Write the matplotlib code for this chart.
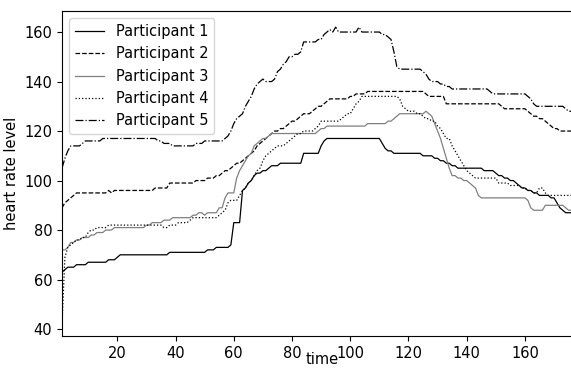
import numpy as np
import matplotlib
matplotlib.use('Agg')
import matplotlib.pyplot as plt

# time steps 1..176
time = np.arange(1, 177)

p1 = [63, 64, 65, 65, 65, 66, 66, 66, 66, 67,
      67, 67, 67, 67, 67, 67, 68, 68, 68, 69,
      70, 70, 70, 70, 70, 70, 70, 70, 70, 70,
      70, 70, 70, 70, 70, 70, 70, 71, 71, 71,
      71, 71, 71, 71, 71, 71, 71, 71, 71, 71,
      72, 72, 72, 73, 73, 73, 73, 73, 74, 83,
      83, 83, 96, 97, 99, 100, 102, 103, 103, 104,
      104, 105, 106, 106, 106, 107, 107, 107, 107, 107,
      107, 107, 107, 111, 111, 111, 111, 111, 111, 114,
      116, 117, 117, 117, 117, 117, 117, 117, 117, 117,
      117, 117, 117, 117, 117, 117, 117, 117, 117, 117,
      115, 113, 112, 112, 111, 111, 111, 111, 111, 111,
      111, 111, 111, 111, 110, 110, 110, 110, 109, 109,
      108, 108, 107, 107, 106, 106, 105, 105, 105, 105,
      105, 105, 105, 105, 105, 104, 104, 104, 104, 103,
      102, 102, 101, 101, 100, 100, 99, 98, 97, 97,
      96, 96, 95, 95, 94, 94, 94, 94, 93, 93,
      91, 89, 88, 87, 87, 87]

p2 = [89, 91, 92, 93, 94, 95, 95, 95, 95, 95,
      95, 95, 95, 95, 95, 95, 96, 95, 96, 96,
      96, 96, 96, 96, 96, 96, 96, 96, 96, 96,
      96, 96, 97, 97, 97, 97, 97, 99, 99, 99,
      99, 99, 99, 99, 99, 99, 100, 100, 100, 100,
      101, 101, 101, 102, 102, 103, 104, 104, 105, 106,
      107, 107, 108, 109, 110, 111, 112, 114, 115, 116,
      117, 118, 119, 120, 120, 121, 121, 122, 123, 124,
      124, 125, 126, 127, 127, 127, 128, 129, 130, 130,
      131, 132, 133, 133, 133, 133, 133, 133, 133, 134,
      134, 135, 135, 135, 135, 136, 136, 136, 136, 136,
      136, 136, 136, 136, 136, 136, 136, 136, 136, 136,
      136, 136, 136, 136, 136, 135, 134, 134, 134, 134,
      134, 134, 131, 131, 131, 131, 131, 131, 131, 131,
      131, 131, 131, 131, 131, 131, 131, 131, 131, 131,
      131, 130, 129, 129, 129, 129, 129, 129, 129, 129,
      128, 127, 126, 126, 125, 125, 124, 123, 122, 121,
      121, 120, 120, 120, 120, 120]

p3 = [72, 72, 73, 75, 75, 76, 76, 77, 77, 77,
      78, 78, 79, 79, 79, 80, 80, 80, 81, 81,
      81, 81, 81, 81, 81, 81, 81, 81, 81, 82,
      82, 83, 83, 83, 83, 84, 84, 84, 85, 85,
      85, 85, 85, 85, 85, 86, 86, 87, 87, 86,
      87, 87, 87, 87, 89, 89, 93, 95, 95, 95,
      101, 104, 106, 108, 110, 111, 114, 115, 116, 117,
      117, 118, 119, 119, 119, 119, 119, 119, 119, 119,
      119, 119, 119, 119, 119, 119, 119, 119, 120, 121,
      121, 122, 122, 122, 122, 122, 122, 122, 122, 122,
      122, 122, 122, 122, 122, 123, 123, 123, 123, 123,
      123, 123, 124, 124, 125, 126, 127, 127, 127, 127,
      127, 127, 127, 127, 127, 128, 127, 126, 123, 120,
      117, 113, 109, 105, 102, 102, 101, 101, 100, 100,
      99, 98, 97, 94, 93, 93, 93, 93, 93, 93,
      93, 93, 93, 93, 93, 93, 93, 93, 93, 93,
      92, 89, 88, 88, 88, 88, 90, 90, 90, 90,
      90, 90, 90, 89, 88, 88]

p4 = [42, 69, 73, 74, 75, 76, 76, 77, 77, 79,
      80, 80, 81, 81, 81, 81, 82, 82, 82, 82,
      82, 82, 82, 82, 82, 82, 82, 82, 82, 82,
      82, 82, 82, 82, 82, 81, 81, 82, 82, 82,
      83, 83, 83, 83, 84, 85, 85, 85, 85, 85,
      85, 85, 85, 85, 86, 87, 88, 91, 92, 92,
      92, 94, 96, 97, 99, 100, 102, 104, 105, 108,
      110, 111, 112, 113, 114, 114, 114, 115, 116, 117,
      118, 119, 119, 120, 120, 120, 120, 121, 122, 124,
      124, 124, 124, 124, 124, 124, 125, 126, 127, 127,
      129, 131, 132, 134, 134, 134, 134, 134, 134, 134,
      134, 134, 134, 134, 134, 134, 133, 130, 129, 128,
      128, 128, 127, 127, 126, 125, 125, 124, 124, 122,
      121, 119, 117, 117, 114, 112, 110, 108, 106, 104,
      103, 102, 101, 101, 101, 101, 101, 101, 101, 101,
      99, 99, 99, 99, 98, 98, 98, 98, 97, 97,
      96, 96, 95, 95, 97, 97, 95, 94, 94, 94,
      94, 94, 94, 94, 94, 94]

p5 = [105, 109, 112, 114, 114, 114, 114, 115, 116, 116,
      116, 116, 116, 116, 117, 117, 117, 117, 117, 117,
      117, 117, 117, 117, 117, 117, 117, 117, 117, 117,
      117, 117, 117, 116, 116, 115, 115, 115, 114, 114,
      114, 114, 114, 114, 114, 114, 115, 115, 115, 116,
      116, 116, 116, 116, 116, 116, 117, 118, 120, 123,
      125, 126, 127, 130, 132, 134, 137, 139, 140, 141,
      140, 140, 140, 141, 144, 145, 147, 148, 150, 150,
      151, 151, 152, 156, 156, 156, 156, 156, 157, 157,
      159, 160, 161, 160, 162, 160, 160, 160, 160, 160,
      160, 160, 162, 160, 160, 160, 160, 160, 160, 160,
      159, 159, 158, 157, 152, 146, 145, 145, 145, 145,
      145, 145, 145, 145, 144, 143, 141, 140, 140, 140,
      139, 139, 138, 138, 137, 137, 137, 137, 137, 137,
      137, 137, 137, 137, 137, 137, 137, 136, 135, 135,
      135, 135, 135, 135, 135, 135, 135, 135, 135, 135,
      134, 133, 131, 130, 130, 130, 130, 130, 130, 130,
      130, 130, 130, 129, 128, 128]

labels = ['Participant 1', 'Participant 2', 'Participant 3', 'Participant 4', 'Participant 5']

plt.rcParams['font.size'] = 10.5

fig = plt.figure(figsize=(5.71, 3.68), dpi=100)
ax = fig.add_axes([62 / 571, 1 - 336 / 368, 520 / 571, 325 / 368])

ax.plot(time, p1, color='black', linestyle='-', linewidth=0.9, label=labels[0])
ax.plot(time, p2, color='black', linestyle='--', linewidth=0.9, label=labels[1])
ax.plot(time, p3, color='gray', linestyle='-', linewidth=0.9, label=labels[2])
ax.plot(time, p4, color='black', linestyle=':', linewidth=0.9, label=labels[3])
ax.plot(time, p5, color='black', linestyle='-.', linewidth=0.9, label=labels[4])

ax.set_xlim(1, 179.6)
ax.set_ylim(37.2, 168.5)
ax.set_xticks([20, 40, 60, 80, 100, 120, 140, 160])
ax.set_yticks([40, 60, 80, 100, 120, 140, 160])
ax.set_xlabel('time', labelpad=-6)
ax.set_ylabel('heart rate level')
ax.legend(loc='upper left')

fig.savefig('out.png', dpi=100)
